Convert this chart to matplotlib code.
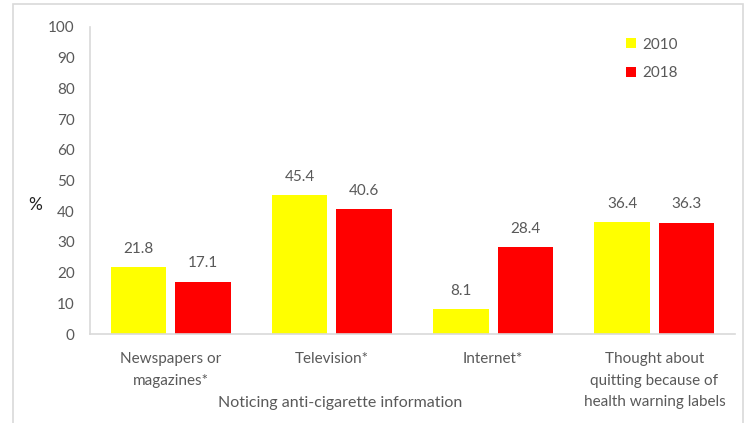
import numpy as np
import matplotlib.pyplot as plt
from matplotlib.patches import Rectangle

categories = ["Newspapers or\nmagazines*", "Television*", "Internet*",
              "Thought about\nquitting because of\nhealth warning labels"]
years = ["2010", "2018"]
vals_2010 = [21.8, 45.4, 8.1, 36.4]
vals_2018 = [17.1, 40.6, 28.4, 36.3]

plt.rcParams['font.family'] = ['Lato', 'DejaVu Sans']
grey = '#595959'

fig = plt.figure(figsize=(7.45, 4.23), dpi=100)
ax = fig.add_axes([90 / 745, 1 - 334 / 423, 645 / 745, 307 / 423])

x = np.arange(len(categories))
w = 0.345
b1 = ax.bar(x - 0.2, vals_2010, w, color='#FFFF00', label=years[0])
b2 = ax.bar(x + 0.2, vals_2018, w, color='#FF0000', label=years[1])

for bars in (b1, b2):
    for rect in bars:
        h = rect.get_height()
        ax.annotate(f"{h:.1f}", (rect.get_x() + rect.get_width() / 2, h),
                    xytext=(0, 8), textcoords='offset points',
                    ha='center', va='bottom', fontsize=11, color=grey)

ax.set_xlim(-0.5, 3.5)
ax.set_ylim(0, 100)
ax.set_yticks(range(0, 101, 10))
ax.set_xticks(x)
ax.set_xticklabels(categories, linespacing=1.68, va='top')
ax.tick_params(axis='both', length=0, labelsize=11, labelcolor=grey)
ax.tick_params(axis='y', pad=11)
ax.tick_params(axis='x', pad=13)

for s in ('top', 'right'):
    ax.spines[s].set_visible(False)
for s in ('left', 'bottom'):
    ax.spines[s].set_color('#d9d9d9')
    ax.spines[s].set_linewidth(1.2)

fig.text(35 / 745, 1 - 205 / 423, '%', fontsize=12.5, color='#222222',
         ha='center', va='center')
fig.text(340 / 745, 1 - 403 / 423, 'Noticing anti-cigarette information',
         fontsize=11.5, color=grey, ha='center', va='center')

leg = ax.legend(loc='upper left', bbox_to_anchor=(0.81, 1.01), frameon=False,
                fontsize=11, handlelength=0.65, handleheight=0.65,
                labelspacing=0.95, handletextpad=0.4)
for t in leg.get_texts():
    t.set_color(grey)

fig.patches.append(Rectangle((13 / 745, -0.05), 730 / 745, 1.05 - 4 / 423,
                             transform=fig.transFigure, fill=False,
                             edgecolor='#d9d9d9', linewidth=1.2))

fig.savefig('out.png', dpi=100)
